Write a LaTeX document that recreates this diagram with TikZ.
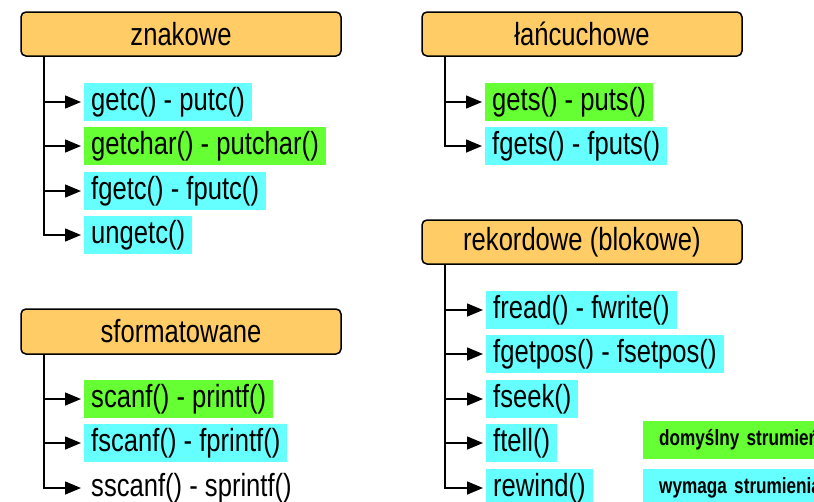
\documentclass[tikz,border=0pt]{standalone}
\usepackage{fontspec}
\setmainfont{Liberation Sans}
\newfontfamily\itemfont{Liberation Sans}[FakeStretch=0.8]
\newfontfamily\legfont{Liberation Sans}[FakeStretch=0.78]
\usetikzlibrary{arrows.meta}
\definecolor{hdr}{HTML}{FFCC66}
\definecolor{cy}{HTML}{66FFFF}
\definecolor{gr}{HTML}{66FF33}
\begin{document}
\begin{tikzpicture}[x=1pt,y=-1pt,
 hdrbox/.style={draw=black, line width=1.5pt, fill=hdr, rounded corners=5pt,
   minimum width=320pt, minimum height=44pt, inner sep=0pt,
   font=\itemfont\fontsize{32}{32}\selectfont},
 fitem/.style={anchor=west, minimum height=38pt, inner xsep=7pt, inner ysep=0pt,
   font=\itemfont\fontsize{32}{32}\selectfont},
 cyitem/.style={fitem, fill=cy},
 gritem/.style={fitem, fill=gr},
 legitem/.style={anchor=west, minimum height=38pt, minimum width=200pt, inner xsep=16pt,
   inner ysep=0pt, text width=170pt, align=left, font=\legfont\bfseries\fontsize{22}{22}\selectfont},
 conn/.style={line width=1.5pt, -{Triangle[length=16pt,width=13pt]}, shorten >=3pt},
 ]
\useasboundingbox (0,0) rectangle (814,501);
\clip (0,0) rectangle (814,501);

% headers
\node[hdrbox] (h1) at (181,34) {znakowe};
\node[hdrbox] (h2) at (582,34) {łańcuchowe};
\node[hdrbox] (h3) at (582,242) {rekordowe (blokowe)};
\node[hdrbox, minimum height=45pt] (h4) at (181,331.5) {sformatowane};

% trunk start points
\coordinate (t1) at (44,56);
\coordinate (t2) at (445,56);
\coordinate (t3) at (445,264);
\coordinate (t4) at (44,354);

% znakowe
\node[cyitem] (z1) at (84,102) {getc() - putc()};
\node[gritem] (z2) at (84,146) {getchar() - putchar()};
\node[cyitem] (z3) at (84,191) {fgetc() - fputc()};
\node[cyitem] (z4) at (84,235) {ungetc()};

% lancuchowe
\node[gritem] (l1) at (485,102) {gets() - puts()};
\node[cyitem] (l2) at (485,146) {fgets() - fputs()};

% rekordowe
\node[cyitem] (r1) at (486,310) {fread() - fwrite()};
\node[cyitem] (r2) at (486,354) {fgetpos() - fsetpos()};
\node[cyitem] (r3) at (486,399) {fseek()};
\node[cyitem] (r4) at (486,443) {ftell()};
\node[cyitem] (r5) at (486,488) {rewind()};

% sformatowane
\node[gritem] (s1) at (84,399) {scanf() - printf()};
\node[cyitem] (s2) at (84,443) {fscanf() - fprintf()};
\node[fitem] (s3) at (84,488) {sscanf() - sprintf()};

% legend
\node[legitem, fill=gr] (g1) at (643,440) {domyślny strumień};
\node[legitem, fill=cy] (g2) at (643,488) {wymaga strumienia};

% connectors
\foreach \n in {z1,z2,z3,z4} \draw[conn] (t1) |- (\n.west);
\foreach \n in {l1,l2} \draw[conn] (t2) |- (\n.west);
\foreach \n in {r1,r2,r3,r4,r5} \draw[conn] (t3) |- (\n.west);
\foreach \n in {s1,s2,s3} \draw[conn] (t4) |- (\n.west);
\end{tikzpicture}
\end{document}
